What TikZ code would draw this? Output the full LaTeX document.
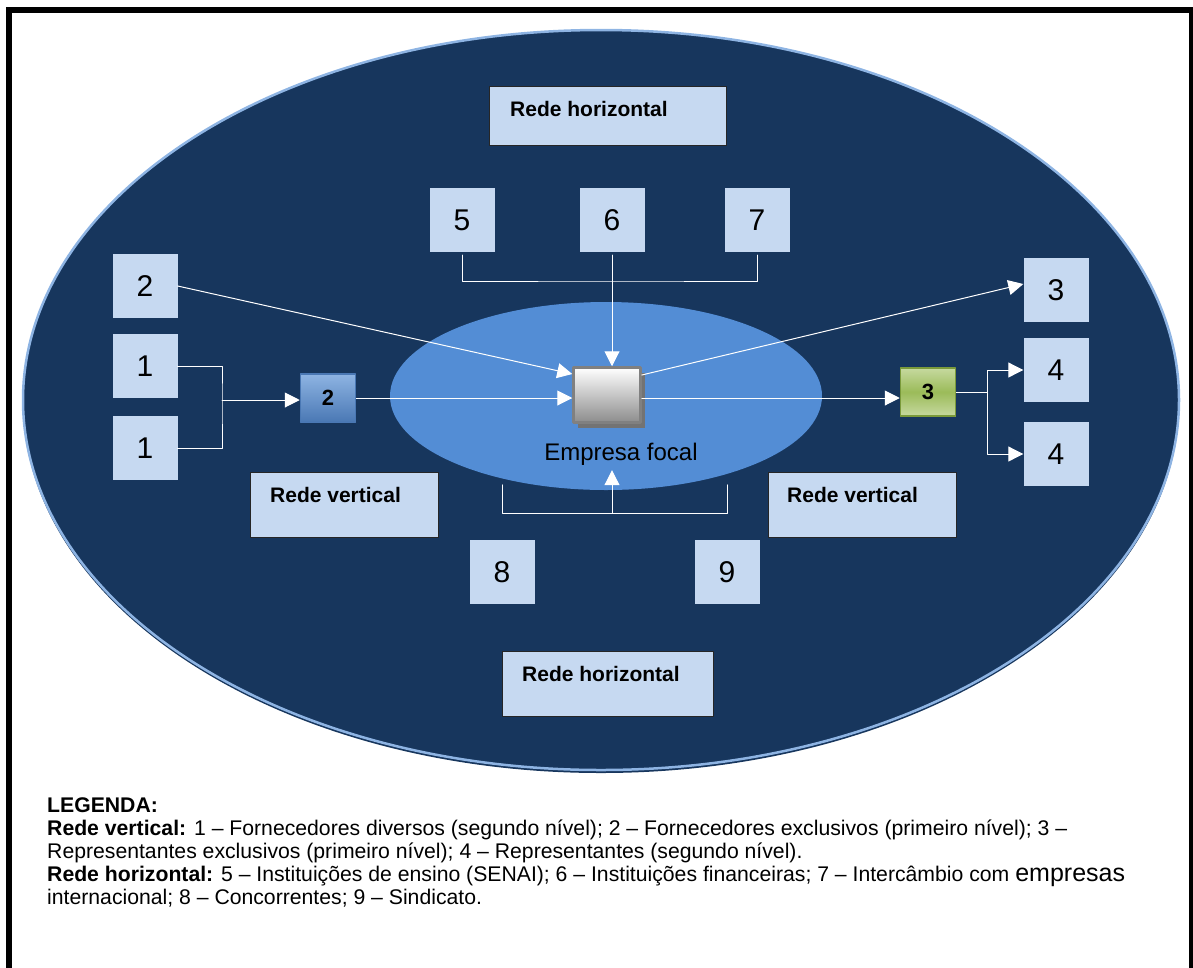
\documentclass[tikz,border=0pt]{standalone}
\usepackage{fontspec}
\setmainfont{Liberation Sans}
\usetikzlibrary{arrows.meta}
\usetikzlibrary{shadows}

\definecolor{navy}{HTML}{17365D}
\definecolor{boxblue}{HTML}{C6D9F1}
\definecolor{midblue}{HTML}{538DD5}
\definecolor{rimblue}{HTML}{8EB4E3}
\definecolor{gr}{HTML}{9BBB59}
\definecolor{grlight}{HTML}{C6D99F}
\definecolor{gredge}{HTML}{7A9A3A}
\definecolor{bledge}{HTML}{4A78B4}

\begin{document}
\begin{tikzpicture}[line cap=round,line join=round,>={Triangle[length=15pt,width=15pt]},x=1pt,y=-1pt,
  numbox/.style={fill=boxblue,minimum width=65pt,minimum height=64pt,inner sep=0pt,font=\fontsize{30}{30}\selectfont},
  redebox/.style={draw=black!85,line width=1pt,fill=boxblue,inner sep=0pt},
  redetxt/.style={anchor=base west,inner sep=0pt,font=\fontsize{21}{21}\selectfont\bfseries},
  smallbox/.style={line width=1.5pt,minimum width=55pt,minimum height=48pt,inner sep=0pt,font=\fontsize{22}{22}\selectfont\bfseries},
  link/.style={draw=white,line width=1pt},
  legtxt/.style={anchor=base west,inner sep=0pt,font=\fontsize{21.2}{24}\selectfont}]
\useasboundingbox (0,0) rectangle (1193,967);
\draw[line width=6.5pt,line join=miter] (9,10) rectangle (1192,1000);
% ellipses
\fill[navy] (601,403) ellipse (578 and 370);
\draw[rimblue,line width=2.5pt,fill=navy] (601,400) ellipse (578 and 370);
\fill[midblue] (606,396) ellipse (216 and 94);
% number boxes
\foreach \n/\x/\y/\t in {n2/145/286/2,n1a/145/366/1,n1b/145/448/1,n5/462/220/5,n6/612/220/6,n7/757/220/7,
  n3/1056/290/3,n4a/1056/370/4,n4b/1056/454/4,n8/502/572/8,n9/727/572/9}
  \node[numbox] (\n) at (\x,\y) {\t};
% firm and first level
\node[draw=black!50,line width=2.5pt,top color=white,bottom color=black!45,minimum width=67pt,minimum height=55pt,inner sep=0pt,
  drop shadow={shadow xshift=4pt,shadow yshift=-5pt,fill=black!55,opacity=1}] (focal) at (607,395) {};
\node[anchor=base,inner sep=5pt,font=\fontsize{24}{24}\selectfont] (efocal) at (621,460) {Empresa focal};
\node[smallbox,draw=bledge,top color=rimblue,bottom color=bledge] (b2) at (328,398) {2};
\node[smallbox,draw=gredge,top color=grlight,bottom color=grlight,middle color=gr] (g3) at (928,392) {3};
% labels
\node[redebox,minimum width=237pt,minimum height=59pt] (rh1) at (607.5,115.5) {};
\node[redetxt] (rh1txt) at (510,116) {Rede horizontal};
\node[redebox,minimum width=188pt,minimum height=65pt] (rv1) at (344,504.5) {};
\node[redetxt] (rv1txt) at (270,502) {Rede vertical};
\node[redebox,minimum width=188pt,minimum height=65pt] (rv2) at (862,504.5) {};
\node[redetxt] (rv2txt) at (787,502) {Rede vertical};
\node[redebox,minimum width=211pt,minimum height=65pt] (rh2) at (607.5,683.5) {};
\node[redetxt] (rh2txt) at (522,681) {Rede horizontal};
% connectors
\coordinate (j1) at (222,400);
\coordinate (j3) at (987,392);
\coordinate (j5) at (612,281);
\coordinate (j8) at (612,513);
\draw[link] (n1a.east) -| (j1) |- (n1b.east);
\draw[link,->] (j1) -- (b2.west |- j1);
\draw[link,->] (b2.east) -- (b2.east -| focal.west);
\draw[link,->] (n2.east) -- ([yshift=21pt]focal.west);
\draw[link,->] (focal.east |- b2.east) -- (b2.east -| g3.west);
\draw[link,->] ([yshift=20pt]focal.east) -- ([yshift=6pt]n3.west);
\draw[link] (g3.east) -- (j3);
\draw[link,->] (j3) |- (n4a.west);
\draw[link,->] (j3) |- (n4b.west);
\draw[link] ([yshift=-3pt]n5.south) |- (j5) -| ([yshift=-3pt]n7.south);
\draw[link,->] ([yshift=-3pt]n6.south) -- (n6.south |- focal.north);
\draw[link] ([yshift=55pt]n8.north) |- (j8) -| ([yshift=55pt]n9.north);
\draw[link,->] (j8) -- (j8 |- efocal.south);
% legend
\node[legtxt,font=\fontsize{21.2}{24}\selectfont\bfseries] (leg0) at (47,812) {LEGENDA:};
\node[legtxt] (leg1) at (47,835) {\textbf{Rede vertical:} 1 – Fornecedores diversos (segundo nível); 2 – Fornecedores exclusivos (primeiro nível); 3 –};
\node[legtxt] (leg2) at (47,858) {Representantes exclusivos (primeiro nível); 4 – Representantes (segundo nível).};
\node[legtxt] (leg3) at (47,881) {\textbf{Rede horizontal:} 5 – Instituições de ensino (SENAI); 6 – Instituições financeiras; 7 – Intercâmbio com {\fontsize{25}{25}\selectfont empresas}};
\node[legtxt] (leg4) at (47,904) {internacional; 8 – Concorrentes; 9 – Sindicato.};
\end{tikzpicture}
\end{document}
